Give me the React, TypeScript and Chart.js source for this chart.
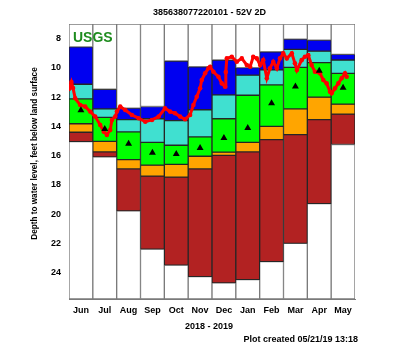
import React, { useEffect, useRef } from 'react';
import { Chart, registerables } from 'chart.js';

Chart.register(...registerables);

const FONT = '"Liberation Sans", Arial, sans-serif';

const TITLE = '385638077220101 - 52V 2D';
const Y_TITLE = 'Depth to water level, feet below land surface';
const X_TITLE = '2018 - 2019';
const FOOTNOTE = 'Plot created 05/21/19 13:18';
const LOGO = 'USGS';

const months = ['Jun', 'Jul', 'Aug', 'Sep', 'Oct', 'Nov', 'Dec', 'Jan', 'Feb', 'Mar', 'Apr', 'May'];

// Percentile boundaries (depth, ft below land surface)
const pMax = [8.56, 11.46, 12.75, 12.64, 9.53, 9.92, 9.46, 9.98, 8.9, 8.03, 8.1, 9.08];
const p90 = [11.12, 12.8, 13.54, 13.48, 13.61, 12.86, 11.84, 10.5, 10.14, 8.74, 8.85, 9.46];
const p75 = [12.12, 13.38, 14.38, 15.09, 15.29, 14.72, 13.48, 11.87, 11.16, 9.96, 9.64, 10.37];
const p25 = [13.82, 15.02, 16.27, 16.65, 16.6, 16.04, 15.76, 15.09, 14.0, 12.8, 12.0, 12.48];
const p10 = [14.4, 15.74, 16.9, 17.4, 17.47, 16.9, 15.98, 15.74, 14.9, 14.56, 13.54, 13.16];
const pMin = [15.04, 16.08, 19.78, 22.39, 23.48, 24.27, 24.7, 24.47, 23.25, 22.0, 19.28, 15.24];
const median = [12.9, 14.18, 15.18, 15.81, 15.88, 15.47, 14.79, 14.11, 12.41, 11.28, 10.19, 11.35];

// Daily readings (position in months since Jun 1 2018, depth)
const lineMonth = [
  0, 0.1, 0.17, 0.26, 0.47, 0.68, 0.89, 1.1, 1.31, 1.46, 1.59, 1.73, 1.8, 1.94, 2.01, 2.15,
  2.36, 2.64, 2.92, 3.2, 3.48, 3.76, 4.03, 4.24, 4.45, 4.66, 4.87, 5.08, 5.22, 5.36, 5.5,
  5.57, 5.71, 5.85, 5.92, 6.06, 6.27, 6.41, 6.55, 6.58, 6.62, 6.83, 7.04, 7.25, 7.46, 7.6,
  7.73, 7.88, 8.02, 8.15, 8.3, 8.43, 8.57, 8.72, 8.85, 8.99, 9.14, 9.35, 9.48, 9.56, 9.76,
  9.9, 10.04, 10.18, 10.32, 10.53, 10.67, 10.81, 10.95, 11.02, 11.16, 11.3, 11.44, 11.58, 11.65,
];
const lineDepth = [
  11.44, 10.97, 11.38, 12.08, 12.54, 12.65, 12.99, 13.33, 13.9, 14.36, 14.58, 14.24, 13.56, 13.33, 12.99, 12.65,
  12.88, 13.22, 13.44, 13.68, 13.56, 13.33, 12.76, 12.99, 13.1, 13.33, 13.51, 13.22, 12.54, 11.97, 11.4,
  10.83, 10.37, 10.03, 9.92, 10.26, 10.61, 11.06, 11.29, 10.28, 9.35, 9.24, 9.58, 9.35, 9.81, 9.92,
  9.24, 9.35, 9.81, 9.47, 10.71, 10.03, 9.58, 10.03, 9.35, 9.01, 9.35, 9.01, 9.69, 10.15, 9.47,
  9.24, 9.13, 9.81, 10.26, 10.37, 10.83, 11.06, 11.63, 11.74, 11.4, 11.06, 10.71, 10.37, 10.61,
];

const yTicks = [8, 10, 12, 14, 16, 18, 20, 22, 24];
const Y_MIN = 7;
const Y_MAX = 25.8;

const textPlugin = {
  id: 'usgsTexts',
  afterDatasetsDraw(chart: any) {
    const ctx = chart.ctx;
    const { left } = chart.chartArea;
    ctx.save();
    ctx.fillStyle = '#1E8C1E';
    ctx.font = `bold 14px ${FONT}`;
    ctx.textAlign = 'left';
    ctx.textBaseline = 'alphabetic';
    ctx.fillText(LOGO, left + 4, 41.5);
    ctx.restore();
  },
  afterDraw(chart: any) {
    const ctx = chart.ctx;
    ctx.save();
    ctx.fillStyle = '#000';
    ctx.font = `bold 9px ${FONT}`;
    ctx.textAlign = 'center';
    ctx.textBaseline = 'middle';
    ctx.fillText(TITLE, 209.5, 12.5);
    ctx.fillText(X_TITLE, 209, 327);
    ctx.textAlign = 'right';
    ctx.fillText(FOOTNOTE, 358, 340);
    ctx.save();
    ctx.translate(35, 153.5);
    ctx.rotate(-Math.PI / 2);
    ctx.textAlign = 'center';
    ctx.font = `bold 8.2px ${FONT}`;
    ctx.fillText(Y_TITLE, 0, 0);
    ctx.restore();
    ctx.restore();
  },
};

function band(label: string, lo: number[], hi: number[], color: string, border: string) {
  return {
    type: 'bar' as const,
    label,
    data: lo.map((v, i) => [v, hi[i]]),
    backgroundColor: color,
    borderColor: border,
    borderWidth: 1,
    borderSkipped: false,
    grouped: false,
    barPercentage: 1,
    categoryPercentage: 1,
    xAxisID: 'x',
    yAxisID: 'y',
    order: 2,
  };
}

export default function App() {
  const ref = useRef<HTMLCanvasElement | null>(null);

  useEffect(() => {
    document.body.style.margin = '0';
    const canvas = ref.current;
    if (!canvas) return;
    const top = months.map(() => Y_MIN);
    const bottom = months.map(() => Y_MAX);
    const dark = '#262626';
    const chart = new Chart(canvas, {
      data: {
        labels: months,
        datasets: [
          {
            type: 'line',
            label: 'Median',
            data: median,
            showLine: false,
            pointStyle: 'triangle',
            pointRadius: 4,
            pointBackgroundColor: '#000',
            pointBorderColor: '#000',
            pointBorderWidth: 0,
            xAxisID: 'x',
            yAxisID: 'y',
            order: 0,
          } as any,
          {
            type: 'line',
            label: 'Daily',
            data: lineMonth.map((m, i) => ({ x: m, y: lineDepth[i] })),
            borderColor: '#ff0000',
            backgroundColor: '#ff0000',
            borderWidth: 3,
            pointRadius: 2.3,
            pointBackgroundColor: '#ff0000',
            pointBorderWidth: 0,
            tension: 0,
            xAxisID: 'x2',
            yAxisID: 'y',
            order: 1,
          } as any,
          band('above', top, pMax, '#ffffff', '#7a7a7a'),
          band('>90', pMax, p90, '#0000f0', dark),
          band('76-90', p90, p75, '#40e0d0', dark),
          band('25-75', p75, p25, '#00ff00', dark),
          band('10-24', p25, p10, '#ffa500', dark),
          band('<10', p10, pMin, '#b22222', dark),
          band('below', pMin, bottom, '#ffffff', '#7a7a7a'),
        ] as any,
      },
      options: {
        animation: false,
        responsive: true,
        maintainAspectRatio: false,
        layout: { padding: { left: 0, right: 45, top: 24, bottom: 0 } },
        plugins: {
          legend: { display: false },
          title: { display: false },
          tooltip: { enabled: false },
        },
        scales: {
          x: {
            type: 'category',
            grid: { display: false, drawTicks: false },
            border: { display: true, color: '#7a7a7a' },
            ticks: {
              color: '#000',
              font: { family: FONT, size: 9, weight: 'bold' },
              padding: 6,
              maxRotation: 0,
              autoSkip: false,
            },
            afterFit: (s: any) => {
              s.height = 52;
            },
          },
          x2: {
            type: 'linear',
            min: 0,
            max: 12,
            display: false,
          },
          y: {
            type: 'linear',
            reverse: true,
            min: Y_MIN,
            max: Y_MAX,
            grid: { display: false, drawTicks: false },
            border: { display: true, color: '#7a7a7a' },
            ticks: {
              color: '#000',
              font: { family: FONT, size: 9, weight: 'bold' },
              padding: 8,
            },
            afterBuildTicks: (s: any) => {
              s.ticks = yTicks.map((v) => ({ value: v }));
            },
            afterFit: (s: any) => {
              s.width = 69;
            },
          },
        },
      } as any,
      plugins: [textPlugin],
    });
    return () => chart.destroy();
  }, []);

  return (
    <div style={{ width: 400, height: 351, position: 'relative' }}>
      <canvas ref={ref} />
    </div>
  );
}
